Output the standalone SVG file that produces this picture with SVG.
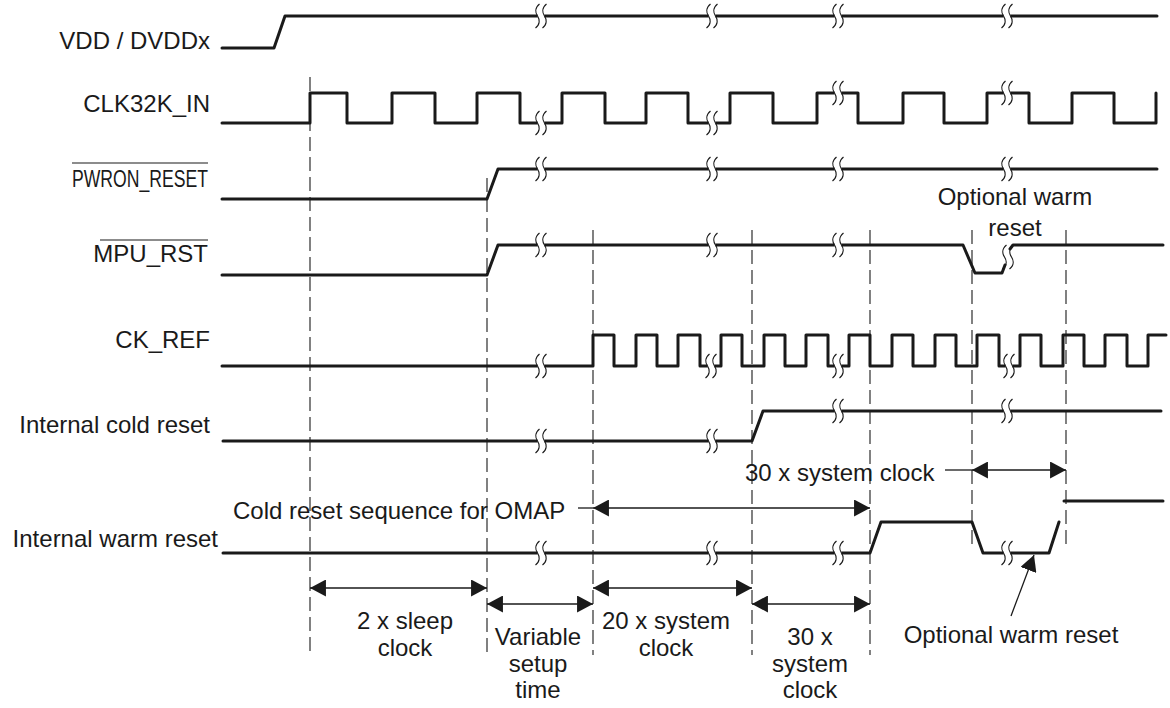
<svg xmlns="http://www.w3.org/2000/svg" xmlns:xlink="http://www.w3.org/1999/xlink" width="1170" height="708" viewBox="0 0 1170 708">
<style>
.sig{fill:none;stroke:#1a1a1a;stroke-width:3;stroke-linejoin:round;stroke-linecap:round}
.dash{fill:none;stroke:#1a1a1a;stroke-width:1.1;stroke-dasharray:14 6}
.dim{fill:none;stroke:#1a1a1a;stroke-width:1.3}
.ovl{stroke:#1a1a1a;stroke-width:1.2}
text{font-family:"Liberation Sans",Arial,sans-serif;font-size:24px;fill:#1a1a1a}
.lab{text-anchor:end}
.mid{text-anchor:middle}
</style>
<defs>
<g id="brk">
<rect x="-3.5" y="-4" width="7" height="8" fill="#fff"/>
<path d="M-1.5,-12 C-6.5,-8 -5.5,-3 -3.5,0 C-1.5,3 -0.5,8 -5.5,12 M5.5,-12 C0.5,-8 1.5,-3 3.5,0 C5.5,3 6.5,8 1.5,12" fill="none" stroke="#1a1a1a" stroke-width="1.2"/>
</g>
<marker id="ah" markerUnits="userSpaceOnUse" viewBox="0 0 15 16" refX="15" refY="8" markerWidth="16" markerHeight="17" orient="auto-start-reverse">
<path d="M0,0 L15,8 L0,16 Z" fill="#1a1a1a"/>
</marker>
</defs>
<rect width="1170" height="708" fill="#fff"/>

<g id="gridlines">
<line class="dash" x1="310" y1="77" x2="310" y2="655"/>
<line class="dash" x1="487" y1="178" x2="487" y2="655"/>
<line class="dash" x1="593" y1="230" x2="593" y2="655"/>
<line class="dash" x1="752" y1="230" x2="752" y2="655"/>
<line class="dash" x1="870" y1="230" x2="870" y2="655"/>
<line class="dash" x1="972" y1="230" x2="972" y2="545"/>
<line class="dash" x1="1066" y1="230" x2="1066" y2="545"/>
</g>

<g id="vdd">
<text class="lab" x="210" y="49">VDD / DVDDx</text>
<path class="sig" d="M222,48 H274 L285,16 H1157"/>
<use xlink:href="#brk" x="541" y="16"/><use xlink:href="#brk" x="712" y="16"/><use xlink:href="#brk" x="838" y="16"/><use xlink:href="#brk" x="1007" y="16"/>
</g>

<g id="clk32k">
<text class="lab" x="210" y="112">CLK32K_IN</text>
<path class="sig" d="M222,123 H310 V93 H347 V123 H392 V93 H435 V123 H477 V93 H520 V123 H562 V93 H605 V123 H646 V93 H688 V123 H730 V93 H773 V123 H817 V93 H858 V123 H903 V93 H944 V123 H987 V93 H1029 V123 H1072 V93 H1114 V123 H1156 V93"/>
<use xlink:href="#brk" x="541" y="123"/><use xlink:href="#brk" x="712" y="123"/><use xlink:href="#brk" x="838" y="93"/><use xlink:href="#brk" x="1007" y="93"/>
</g>

<g id="pwron">
<text class="lab" x="208" y="187" textLength="136" lengthAdjust="spacingAndGlyphs">PWRON_RESET</text>
<line class="ovl" x1="72" y1="163" x2="208" y2="163"/>
<path class="sig" d="M222,199 H487 L498,169 H1157"/>
<use xlink:href="#brk" x="541" y="169"/><use xlink:href="#brk" x="712" y="169"/><use xlink:href="#brk" x="838" y="169"/><use xlink:href="#brk" x="1007" y="169"/>
</g>

<g id="mpurst">
<text class="lab" x="208" y="262">MPU_RST</text>
<line class="ovl" x1="100" y1="240" x2="208" y2="240"/>
<path class="sig" d="M222,275 H487 L498,245 H963 L975,273 H1002 L1005,265 M1010,249 L1013,245 H1163"/>
<use xlink:href="#brk" x="541" y="245"/><use xlink:href="#brk" x="712" y="245"/><use xlink:href="#brk" x="838" y="245"/><use xlink:href="#brk" x="1008" y="257"/>
<text class="mid" x="1015" y="205">Optional warm</text>
<text class="mid" x="1015" y="236">reset</text>
</g>

<g id="ckref">
<text class="lab" x="210" y="348">CK_REF</text>
<path class="sig" d="M222,366 H593 V335 H614 V366 H636 V335 H657 V366 H678 V335 H700 V366 H721 V335 H742 V366 H764 V335 H785 V366 H806 V335 H828 V366 H849 V335 H870 V366 H892 V335 H913 V366 H935 V335 H956 V366 H977 V335 H999 V366 H1020 V335 H1041 V366 H1063 V335 H1084 V366 H1105 V335 H1127 V366 H1148 V335 H1166"/>
<use xlink:href="#brk" x="541" y="366"/><use xlink:href="#brk" x="711" y="366"/><use xlink:href="#brk" x="838" y="366"/><use xlink:href="#brk" x="1009" y="366"/>
</g>

<g id="coldreset">
<text class="lab" x="210" y="433">Internal cold reset</text>
<path class="sig" d="M223,441 H752 L763,411 H1161"/>
<use xlink:href="#brk" x="541" y="441"/><use xlink:href="#brk" x="712" y="441"/><use xlink:href="#brk" x="838" y="411"/><use xlink:href="#brk" x="1007" y="411"/>
</g>

<g id="warmreset">
<text class="lab" x="218" y="547">Internal warm reset</text>
<path class="sig" d="M223,553 H870 L881,522 H972 L983,553 H1049 L1059,522 M1064,501 H1163"/>
<use xlink:href="#brk" x="541" y="553"/><use xlink:href="#brk" x="712" y="553"/><use xlink:href="#brk" x="838" y="553"/><use xlink:href="#brk" x="1007" y="553"/>
</g>

<g id="connectors">
<line class="dim" x1="945" y1="470" x2="972" y2="470"/>
<line class="dim" x1="972" y1="470" x2="1066" y2="470" marker-start="url(#ah)" marker-end="url(#ah)"/>
<line class="dim" x1="578" y1="508" x2="593" y2="508"/>
<line class="dim" x1="593" y1="508" x2="870" y2="508" marker-start="url(#ah)" marker-end="url(#ah)"/>
<line class="dim" x1="310" y1="588" x2="487" y2="588" marker-start="url(#ah)" marker-end="url(#ah)"/>
<line class="dim" x1="593" y1="588" x2="752" y2="588" marker-start="url(#ah)" marker-end="url(#ah)"/>
<line class="dim" x1="487" y1="604" x2="593" y2="604" marker-start="url(#ah)" marker-end="url(#ah)"/>
<line class="dim" x1="752" y1="604" x2="870" y2="604" marker-start="url(#ah)" marker-end="url(#ah)"/>
<line class="dim" x1="1011" y1="616" x2="1034" y2="555" marker-end="url(#ah)"/>
</g>

<g id="annotations">
<text x="745" y="481">30 x system clock</text>
<text x="233" y="519">Cold reset sequence for OMAP</text>
<text class="mid" x="405" y="629">2 x sleep</text>
<text class="mid" x="405" y="656">clock</text>
<text class="mid" x="538" y="645">Variable</text>
<text class="mid" x="538" y="672">setup</text>
<text class="mid" x="538" y="698">time</text>
<text class="mid" x="666" y="629">20 x system</text>
<text class="mid" x="666" y="656">clock</text>
<text class="mid" x="810" y="645">30 x</text>
<text class="mid" x="810" y="672">system</text>
<text class="mid" x="810" y="698">clock</text>
<text class="mid" x="1011" y="643">Optional warm reset</text>
</g>
</svg>
